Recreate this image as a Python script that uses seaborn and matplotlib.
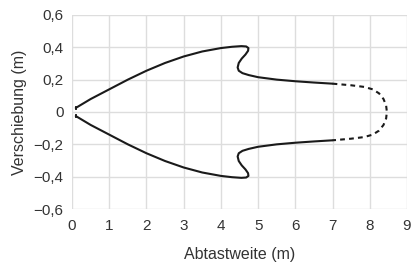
import matplotlib
matplotlib.use("Agg")
import matplotlib.pyplot as plt
import seaborn as sns
import pandas as pd

# Upper solid branch (Abtastweite m, Verschiebung m)
upper_x = [0.10, 0.50, 1.00, 1.50, 2.00, 2.50, 3.00, 3.50, 4.00, 4.30, 4.55, 4.68, 4.74, 4.73, 4.66, 4.56, 4.48, 4.45, 4.48, 4.58, 4.75, 5.00, 5.50, 6.00, 6.50, 7.00]
upper_y = [0.025, 0.080, 0.140, 0.200, 0.255, 0.303, 0.343, 0.374, 0.395, 0.403, 0.407, 0.405, 0.395, 0.378, 0.355, 0.330, 0.303, 0.275, 0.255, 0.240, 0.228, 0.215, 0.200, 0.190, 0.182, 0.175]
# Lower solid branch (mirror)
lower_x = upper_x
lower_y = [-v for v in upper_y]
# Dashed closing part
dash_x = [7.00, 7.50, 7.85, 8.08, 8.25, 8.37, 8.44, 8.46, 8.44, 8.37, 8.25, 8.08, 7.85, 7.50, 7.00]
dash_y = [0.175, 0.165, 0.155, 0.140, 0.115, 0.080, 0.040, 0.000, -0.040, -0.080, -0.115, -0.140, -0.155, -0.165, -0.175]

x_ticks = [0, 1, 2, 3, 4, 5, 6, 7, 8, 9]
y_ticks = [-0.6, -0.4, -0.2, 0, 0.2, 0.4, 0.6]
y_labels = ["\u22120,6", "\u22120,4", "\u22120,2", "0", "0,2", "0,4", "0,6"]

sns.set_theme(style="whitegrid")
plt.rcParams['font.family'] = ['Liberation Sans', 'DejaVu Sans']
plt.rcParams['axes.unicode_minus'] = True

fig = plt.figure(figsize=(4.14, 2.66), dpi=100)
ax = fig.add_axes([0.174, 0.214, 0.809, 0.730])

lc = "#1a1a1a"
lw = 1.5
sns.lineplot(data=pd.DataFrame({"x": upper_x, "y": upper_y}), x="x", y="y", sort=False,
             ax=ax, color=lc, linewidth=lw, estimator=None)
sns.lineplot(data=pd.DataFrame({"x": lower_x, "y": lower_y}), x="x", y="y", sort=False,
             ax=ax, color=lc, linewidth=lw, estimator=None)
sns.lineplot(data=pd.DataFrame({"x": dash_x, "y": dash_y}), x="x", y="y", sort=False,
             ax=ax, color=lc, linewidth=lw, estimator=None, linestyle=(0, (2.3, 2.0)))
# start markers
ax.plot([upper_x[0]], [upper_y[0]], marker="|", color=lc, markersize=3.5, mew=1.3)
ax.plot([lower_x[0]], [lower_y[0]], marker="|", color=lc, markersize=3.5, mew=1.3)

ax.set_xlim(0, 9)
ax.set_ylim(-0.6, 0.6)
ax.set_xticks(x_ticks)
ax.set_xticklabels([str(v) for v in x_ticks])
ax.set_yticks(y_ticks)
ax.set_yticklabels(y_labels)
ax.grid(True, color="#dddddd", linewidth=1.0)
for s in ax.spines.values():
    s.set_visible(False)
ax.tick_params(axis="x", length=0, labelsize=11, colors="#333333", pad=7)
ax.tick_params(axis="y", length=0, labelsize=11, colors="#333333", pad=6)
ax.set_xlabel("Abtastweite (m)", fontsize=11.5, color="#333333", labelpad=10)
ax.set_ylabel("Verschiebung (m)", fontsize=11.5, color="#333333", labelpad=5)

fig.savefig("out.png", dpi=100)
